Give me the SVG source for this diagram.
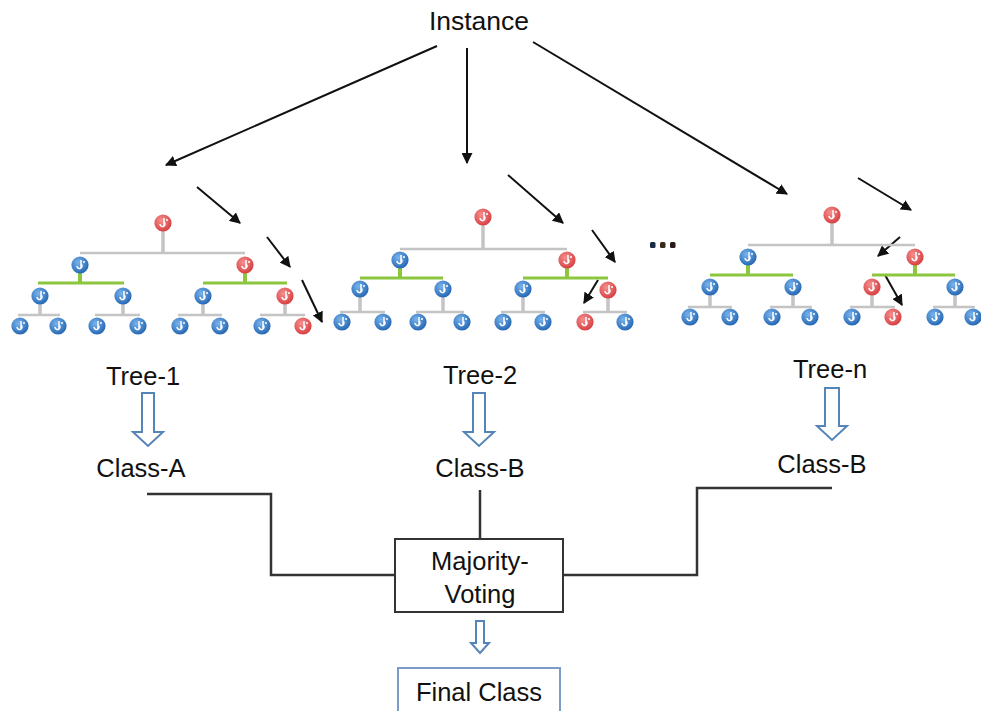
<svg xmlns="http://www.w3.org/2000/svg" xmlns:xlink="http://www.w3.org/1999/xlink" width="981" height="711" viewBox="0 0 981 711">
<defs>
<style>
.t{font-family:"Liberation Sans",Arial,sans-serif;font-size:25.5px;fill:#111;text-anchor:middle}
.ar{stroke:#111;stroke-width:2;fill:none;marker-end:url(#ah)}
.gl{stroke:#c4c4c4;stroke-width:2.5;fill:none}
.gv{stroke:#c4c4c4;stroke-width:3.5;fill:none}
.gr{stroke:#8cc63f;stroke-width:3;fill:none}
.grv{stroke:#8cc63f;stroke-width:4;fill:none}
.cn{stroke:#333;stroke-width:2.5;fill:none}
.ha{fill:#fff;stroke:#5584b8;stroke-width:2;stroke-linejoin:miter}
</style>
<marker id="ah" viewBox="0 0 10 10" refX="9" refY="5" markerWidth="5.5" markerHeight="5.5" orient="auto" markerUnits="strokeWidth">
<path d="M0,0 L10,5 L0,10 Z" fill="#111"/>
</marker>
<radialGradient id="gb" cx="0.4" cy="0.35" r="0.7">
<stop offset="0" stop-color="#7ab4ec"/>
<stop offset="1" stop-color="#1f62b0"/>
</radialGradient>
<radialGradient id="gred" cx="0.4" cy="0.35" r="0.7">
<stop offset="0" stop-color="#f59090"/>
<stop offset="1" stop-color="#d63a3c"/>
</radialGradient>
<symbol id="b" viewBox="-9 -9 18 18" width="18" height="18" overflow="visible">
<circle r="8.6" fill="url(#gb)"/>
<path d="M-3,1 a2.5,2.5 0 1 0 4,-2 M1,-5 v8 M3,-3 h2" stroke="#fff" stroke-width="1.5" fill="none"/>
</symbol>
<symbol id="r" viewBox="-9 -9 18 18" width="18" height="18" overflow="visible">
<circle r="8.6" fill="url(#gred)"/>
<path d="M-3,1 a2.5,2.5 0 1 0 4,-2 M1,-5 v8 M3,-3 h2" stroke="#fff" stroke-width="1.5" fill="none"/>
</symbol>
</defs>
<rect width="981" height="711" fill="#fff"/>

<g id="instance"><text class="t" x="479" y="30" style="font-size:26.5px">Instance</text></g>

<g id="connectors">
<line class="ar" x1="437" y1="46" x2="166" y2="165"/>
<line class="ar" x1="467" y1="48" x2="467" y2="163"/>
<line class="ar" x1="533" y1="42" x2="787" y2="194"/>
<line class="ar" x1="197" y1="187" x2="240" y2="223"/>
<line class="ar" x1="267" y1="237" x2="290" y2="267"/>
<line class="ar" x1="302" y1="280" x2="322" y2="322"/>
<line class="ar" x1="508" y1="175" x2="563" y2="223"/>
<line class="ar" x1="592" y1="230" x2="615" y2="262"/>
<line class="ar" x1="598" y1="280" x2="584" y2="303"/>
<line class="ar" x1="858" y1="178" x2="911" y2="210"/>
<line class="ar" x1="900" y1="237" x2="878" y2="256"/>
<line class="ar" x1="885" y1="275" x2="902" y2="305"/>
<path class="cn" d="M147,494 H271 V575 H395"/>
<path class="cn" d="M480,490 V539"/>
<path class="cn" d="M832,488 H697 V575 H563"/>
<path class="ha" d="M142,393 H154 V432 H163 L148,446 L133,432 H142 Z"/>
<path class="ha" d="M473,393 H485 V432 H494 L479,446 L464,432 H473 Z"/>
<path class="ha" d="M825,388 H839 V426 H847 L832,440 L817,426 H825 Z"/>
<path class="ha" d="M476,621 H484 V643 H489 L480,653 L471,643 H476 Z"/>
</g>

<g id="tree-1">
<path class="gv" d="M163,223 V253"/>
<path class="gl" d="M80,253 H245"/>
<path class="grv" d="M80,265 V283 M245,265 V283"/>
<path class="gr" d="M38,283 H124 M203,283 H287"/>
<path class="gv" d="M40,296 V315 M123,296 V315 M203,296 V315 M285,296 V315"/>
<path class="gl" d="M18,315 H60 M95,315 H140 M178,315 H222 M260,315 H305"/>
<use href="#r" x="154" y="214"/>
<use href="#b" x="71" y="256"/><use href="#r" x="236" y="256"/>
<use href="#b" x="31" y="287"/><use href="#b" x="114" y="287"/><use href="#b" x="194" y="287"/><use href="#r" x="276" y="287"/>
<use href="#b" x="11" y="317"/><use href="#b" x="49" y="317"/><use href="#b" x="88" y="317"/><use href="#b" x="129" y="317"/>
<use href="#b" x="171" y="317"/><use href="#b" x="211" y="317"/><use href="#b" x="253" y="317"/><use href="#r" x="294" y="317"/>
</g>

<g id="tree-2">
<path class="gv" d="M483,217 V249"/>
<path class="gl" d="M400,249 H567"/>
<path class="grv" d="M400,260 V278 M567,260 V278"/>
<path class="gr" d="M360,278 H443 M523,278 H608"/>
<path class="gv" d="M360,289 V312 M443,289 V312 M523,289 V312 M608,289 V312"/>
<path class="gl" d="M340,312 H385 M416,312 H464 M501,312 H545 M583,312 H627"/>
<use href="#r" x="474" y="208"/>
<use href="#b" x="391" y="251"/><use href="#r" x="558" y="251"/>
<use href="#b" x="351" y="280"/><use href="#b" x="434" y="280"/><use href="#b" x="514" y="280"/><use href="#r" x="599" y="281"/>
<use href="#b" x="333" y="313"/><use href="#b" x="374" y="313"/><use href="#b" x="409" y="313"/><use href="#b" x="453" y="313"/>
<use href="#b" x="494" y="313"/><use href="#b" x="534" y="313"/><use href="#r" x="576" y="313"/><use href="#b" x="616" y="313"/>
</g>

<g id="ellipsis">
<rect x="650" y="242" width="5.5" height="6" rx="1.5" fill="#1a2a44"/>
<rect x="660" y="242" width="5.5" height="6" rx="1.5" fill="#3a2a1a"/>
<rect x="670" y="242" width="5.5" height="6" rx="1.5" fill="#2a1a1a"/>
</g>

<g id="tree-n">
<path class="gv" d="M832,215 V245"/>
<path class="gl" d="M748,245 H915"/>
<path class="grv" d="M748,257 V275 M915,257 V275"/>
<path class="gr" d="M710,275 H793 M872,275 H955"/>
<path class="gv" d="M710,287 V307 M793,287 V307 M872,287 V307 M955,287 V307"/>
<path class="gl" d="M688,307 H732 M770,307 H812 M850,307 H895 M933,307 H975"/>
<use href="#r" x="823" y="206"/>
<use href="#b" x="739" y="248"/><use href="#r" x="906" y="248"/>
<use href="#b" x="701" y="278"/><use href="#b" x="784" y="278"/><use href="#r" x="863" y="278"/><use href="#b" x="946" y="278"/>
<use href="#b" x="681" y="308"/><use href="#b" x="721" y="308"/><use href="#b" x="763" y="308"/><use href="#b" x="801" y="308"/>
<use href="#b" x="843" y="308"/><use href="#r" x="884" y="308"/><use href="#b" x="926" y="308"/><use href="#b" x="964" y="308"/>
</g>

<g id="tree-1-label"><text class="t" x="143" y="385">Tree-1</text></g>
<g id="tree-2-label"><text class="t" x="480" y="384">Tree-2</text></g>
<g id="tree-n-label"><text class="t" x="830" y="378">Tree-n</text></g>
<g id="class-a"><text class="t" x="141" y="477">Class-A</text></g>
<g id="class-b-2"><text class="t" x="480" y="477">Class-B</text></g>
<g id="class-b-n"><text class="t" x="822" y="473">Class-B</text></g>

<g id="majority-voting">
<rect x="395" y="539" width="168" height="73" fill="#fff" stroke="#333" stroke-width="2"/>
<text class="t" x="480" y="570">Majority-</text>
<text class="t" x="480" y="603">Voting</text>
</g>

<g id="final-class">
<rect x="398" y="668" width="162" height="50" fill="#fff" stroke="#7a9cc6" stroke-width="2"/>
<text class="t" x="479" y="701">Final Class</text>
</g>
</svg>
